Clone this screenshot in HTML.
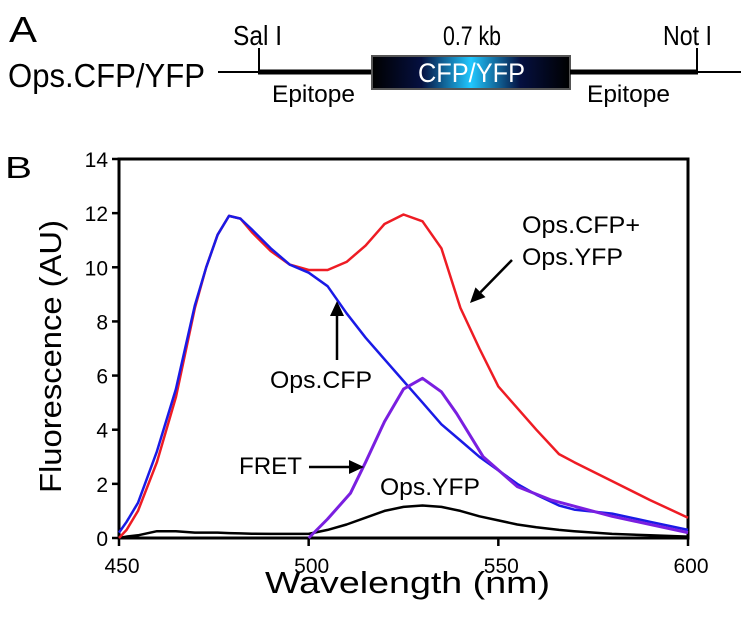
<!DOCTYPE html>
<html><head><meta charset="utf-8"><style>
body{margin:0;background:#fff;}
svg{display:block;font-family:"Liberation Sans",Arial,sans-serif;}
</style></head><body>
<svg width="741" height="621" viewBox="0 0 741 621">
<defs>
<linearGradient id="gfp" x1="0" x2="1" y1="0" y2="0">
<stop offset="0" stop-color="#000"/><stop offset="0.25" stop-color="#051040"/><stop offset="0.5" stop-color="#20c8ff"/><stop offset="0.75" stop-color="#051040"/><stop offset="1" stop-color="#000"/>
</linearGradient>
</defs>
<g>
<text x="9" y="42" font-size="36" textLength="28" lengthAdjust="spacingAndGlyphs">A</text>
<text x="8" y="87" font-size="33" textLength="197" lengthAdjust="spacingAndGlyphs">Ops.CFP/YFP</text>
<line x1="218" y1="72" x2="260" y2="72" stroke="#000" stroke-width="2"/>
<line x1="258" y1="72" x2="372" y2="72" stroke="#000" stroke-width="5"/>
<line x1="259" y1="48" x2="259" y2="73" stroke="#000" stroke-width="2"/>
<text x="233" y="45" font-size="28" textLength="49" lengthAdjust="spacingAndGlyphs">Sal I</text>
<rect x="372" y="56" width="198" height="33" fill="url(#gfp)" stroke="#555" stroke-width="2"/>
<text x="418" y="82" font-size="27" fill="#fff" textLength="107" lengthAdjust="spacingAndGlyphs">CFP/YFP</text>
<text x="443" y="45" font-size="27" textLength="58" lengthAdjust="spacingAndGlyphs">0.7 kb</text>
<line x1="570" y1="72" x2="698" y2="72" stroke="#000" stroke-width="5"/>
<line x1="697" y1="48" x2="697" y2="73" stroke="#000" stroke-width="2"/>
<line x1="696" y1="72" x2="741" y2="72" stroke="#000" stroke-width="2"/>
<text x="663" y="45" font-size="28" textLength="49" lengthAdjust="spacingAndGlyphs">Not I</text>
<text x="272" y="102" font-size="24" textLength="83" lengthAdjust="spacingAndGlyphs">Epitope</text>
<text x="587" y="102" font-size="24" textLength="83" lengthAdjust="spacingAndGlyphs">Epitope</text>
</g>
<text x="5" y="178" font-size="31" textLength="27" lengthAdjust="spacingAndGlyphs">B</text>
<g id="chart"></g>
</svg>
<script>
const wavelengths=[450,452,455,460,465,470,473,476,479,482,485,490,495,500,505,510,515,520,525,530,535,540,545,550,555,560,566,570,580,590,600];
const mergedValues=[0,0.3,1,2.8,5.2,8.5,10,11.2,11.9,11.8,11.3,10.6,10.1,9.9,9.9,10.2,10.8,11.6,11.95,11.7,10.7,8.5,7.0,5.6,4.8,4.0,3.1,2.8,2.1,1.4,0.75];
const cfpValues=[0.2,0.6,1.3,3.2,5.5,8.6,10,11.2,11.9,11.8,11.4,10.7,10.1,9.8,9.3,8.3,7.4,6.6,5.8,5.0,4.2,3.6,3.0,2.5,2.0,1.6,1.2,1.05,0.9,0.6,0.3];
const fretWl=[500,505,511,515,520,525,530,535,539,546,555,564,580,600];
const fretValues=[0,0.7,1.65,2.8,4.3,5.5,5.9,5.4,4.6,3.0,1.9,1.4,0.8,0.2];
const yfpValues=[0,0.05,0.1,0.25,0.25,0.2,0.2,0.2,0.18,0.17,0.16,0.15,0.15,0.15,0.3,0.5,0.75,1.0,1.15,1.2,1.15,1.0,0.8,0.65,0.5,0.4,0.3,0.25,0.15,0.1,0.05];
const xTicks=[450,500,550,600];
const yTicks=[0,2,4,6,8,10,12,14];
const X0=119,X1=688,Y0=538,Y1=159;
const xs=v=>X0+(v-450)/150*(X1-X0);
const ys=v=>Y0-v/14*(Y0-Y1);
const NS='http://www.w3.org/2000/svg';
const g=document.getElementById('chart');
function mk(t,a,parent){const e=document.createElementNS(NS,t);for(const k in a)e.setAttribute(k,a[k]);(parent||g).appendChild(e);return e;}
const frame=mk('rect',{x:X0,y:Y1,width:X1-X0,height:Y0-Y1,fill:'none',stroke:'#000','stroke-width':3});


yTicks.forEach(t=>{
 const l=mk('line',{x1:X0-7,x2:X0,y1:ys(t),y2:ys(t),stroke:'#000','stroke-width':2.5});
 
 
 const tx=mk('text',{x:X0-11,y:ys(t)+8,'font-size':21,'text-anchor':'end'});tx.textContent=t;
 
 
});
xTicks.forEach(t=>{
 const l=mk('line',{x1:xs(t),x2:xs(t),y1:Y0,y2:Y0+8,stroke:'#000','stroke-width':2.5});
 
 
 const tx=mk('text',{x:xs(t)+3,y:Y0+35,'font-size':21,'text-anchor':'middle'});tx.textContent=t;
 
 
});
const xt=mk('text',{x:265,y:593,'font-size':31,textLength:285,lengthAdjust:'spacingAndGlyphs'});xt.textContent='Wavelength (nm)';


const yt=mk('text',{x:0,y:0,'font-size':31,textLength:273,lengthAdjust:'spacingAndGlyphs',transform:'translate(61,493) rotate(-90)'});yt.textContent='Fluorescence (AU)';


function line(xv,yv,color,w,name){
 const d=xv.map((x,i)=>(i?'L':'M')+xs(x).toFixed(1)+' '+ys(yv[i]).toFixed(1)).join(' ');
 const p=mk('path',{d:d,fill:'none',stroke:color,'stroke-width':w,'stroke-linejoin':'round'});
 
 
}
line(wavelengths,yfpValues,'#000',2.5,'ops-yfp-line');
line(wavelengths,mergedValues,'#ee1c24',2.5,'ops-cfp-plus-yfp-line');
line(wavelengths,cfpValues,'#1a1ae6',2.5,'ops-cfp-line');
line(fretWl,fretValues,'#7a1fe0',3,'fret-line');
function arrow(x1,y1,x2,y2,name){
 const a=Math.atan2(y2-y1,x2-x1),L=15,W=7;
 const bx=x2-L*Math.cos(a),by=y2-L*Math.sin(a);
 const grp=mk('g',{});
 
 
 mk('line',{x1:x1,y1:y1,x2:bx,y2:by,stroke:'#000','stroke-width':2.5},grp);
 mk('polygon',{points:`${x2},${y2} ${bx-W*Math.sin(a)},${by+W*Math.cos(a)} ${bx+W*Math.sin(a)},${by-W*Math.cos(a)}`,fill:'#000'},grp);
}
function label(x,y,t,len,name){const e=mk('text',{x:x,y:y,'font-size':24,textLength:len,lengthAdjust:'spacingAndGlyphs'});e.textContent=t;
 
 }
label(522,233,'Ops.CFP+',118,'merged-label-1');label(522,265,'Ops.YFP',101,'merged-label-2');
arrow(512,260,470,303,'merged-arrow');
label(270,388,'Ops.CFP',102,'cfp-label');arrow(337,360,337,301,'cfp-arrow');
label(239,474,'FRET',63,'fret-label');arrow(309,467,364,467,'fret-arrow');
label(380,495,'Ops.YFP',100,'yfp-label');
</script>
</body></html>
